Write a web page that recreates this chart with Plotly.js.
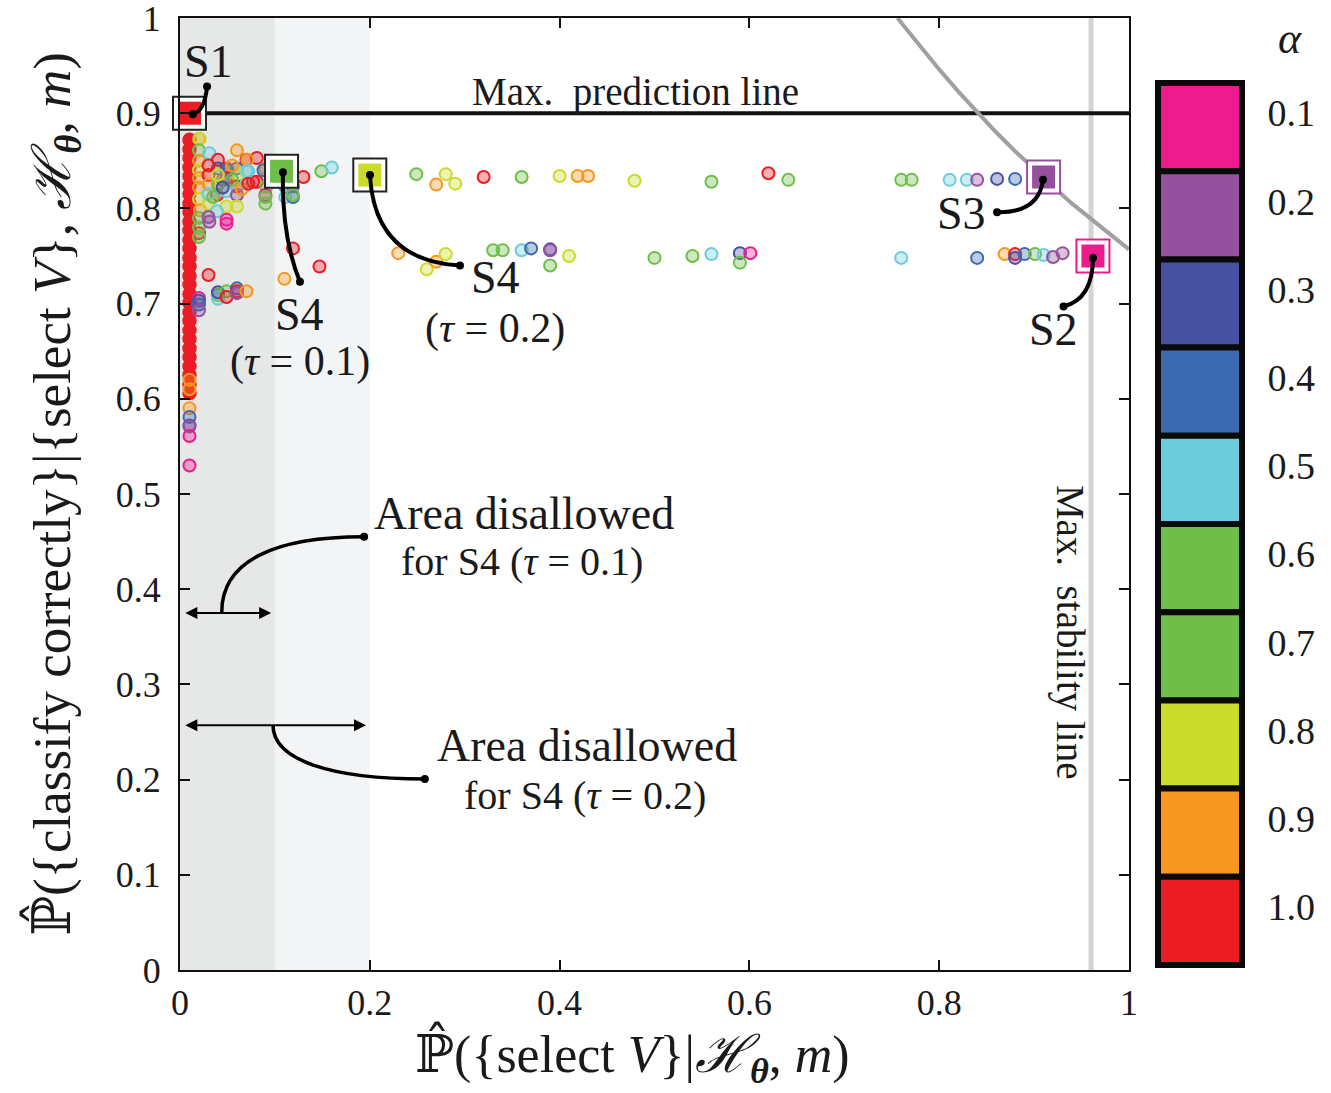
<!DOCTYPE html>
<html>
<head>
<meta charset="utf-8">
<script src="https://cdn.plot.ly/plotly-3.0.1.min.js"></script>
<style>html,body{margin:0;padding:0;background:#fff;}#chart{width:1331px;height:1093px;}</style>
</head>
<body>
<div id="chart"></div>
<script>
// ---------------- DATA ----------------
const alphaLevels = [0.1, 0.2, 0.3, 0.4, 0.5, 0.6, 0.7, 0.8, 0.9, 1.0];
const alphaLabels = ['0.1', '0.2', '0.3', '0.4', '0.5', '0.6', '0.7', '0.8', '0.9', '1.0'];
const alphaColors = ['#EC1C8E', '#96519E', '#4751A2', '#3C6AB1', '#6DCCDC',
                     '#6FBE4A', '#6FBE4A', '#CBDB2A', '#F7971F', '#EC1C24'];

// dense column of alpha = 1.0 results near x = 0.01
const colX = [0.01,0.01,0.01,0.01,0.01,0.01,0.01,0.01,0.01,0.01,0.01,0.01,0.01,0.01,0.01,
              0.01,0.01,0.01,0.01,0.01,0.01,0.01,0.01,0.01,0.01,0.01,0.01,0.01,0.01];
const colY = [0.872,0.862,0.853,0.843,0.834,0.824,0.815,0.805,0.796,0.786,0.777,0.767,0.758,0.748,0.739,
              0.729,0.720,0.710,0.701,0.691,0.682,0.672,0.663,0.653,0.644,0.634,0.625,0.615,0.606];

// individual results: x, y, alpha
const ptX = [
  0.010,0.010,0.010,0.010,0.010,0.010,0.010,0.010,
  0.020,0.021,0.020,0.020,0.020,0.020,0.020,0.020,0.021,0.020,0.020,0.020,0.020,
  0.031,0.040,0.060,0.070,0.049,0.060,0.070,0.030,0.049,0.061,0.030,0.060,0.070,0.077,
  0.039,0.049,0.060,0.030,0.049,0.060,0.039,0.030,0.049,0.031,0.049,
  0.040,0.050,0.045,0.030,0.055,0.040,0.030,0.040,0.065,0.035,0.055,0.045,
  0.081,0.071,0.090,0.072,0.081,0.072,0.091,0.090,0.090,0.090,0.088,
  0.130,0.149,0.160,0.111,0.119,0.111,0.119,0.119,
  0.119,0.030,0.110,0.147,
  0.040,0.040,0.040,0.049,0.049,0.060,0.060,0.060,0.070,0.020,0.020,0.020,0.020,
  0.249,0.270,0.280,0.290,0.320,0.360,0.400,0.419,0.430,0.479,0.560,0.620,0.641,
  0.760,0.771,0.811,0.829,0.840,0.861,0.880,
  0.230,0.260,0.270,0.280,0.330,0.340,0.360,0.370,0.390,0.390,0.390,0.410,0.500,0.540,0.560,0.590,0.601,0.590,
  0.760,0.840,0.869,0.880,0.880,0.890,0.901,0.910,0.920,0.930
];
const ptY = [
  0.620,0.610,0.590,0.581,0.572,0.571,0.561,0.530,
  0.873,0.873,0.861,0.850,0.840,0.832,0.822,0.810,0.798,0.790,0.774,0.770,0.780,
  0.858,0.851,0.861,0.851,0.842,0.842,0.839,0.835,0.832,0.835,0.825,0.823,0.826,0.828,
  0.814,0.818,0.814,0.805,0.802,0.802,0.797,0.791,0.788,0.786,0.784,
  0.842,0.840,0.830,0.815,0.830,0.825,0.845,0.835,0.820,0.812,0.845,0.822,
  0.853,0.851,0.842,0.839,0.828,0.826,0.823,0.814,0.812,0.805,0.840,
  0.833,0.839,0.843,0.823,0.823,0.812,0.812,0.814,
  0.758,0.730,0.726,0.739,
  0.709,0.705,0.712,0.713,0.707,0.716,0.713,0.711,0.713,0.706,0.703,0.699,0.693,
  0.836,0.825,0.836,0.826,0.833,0.833,0.834,0.834,0.834,0.829,0.828,0.837,0.830,
  0.830,0.830,0.830,0.830,0.830,0.831,0.831,
  0.753,0.736,0.744,0.752,0.756,0.756,0.756,0.758,0.757,0.756,0.740,0.750,0.748,0.750,0.752,0.753,0.753,0.743,
  0.748,0.748,0.752,0.752,0.748,0.752,0.752,0.751,0.749,0.753
];
const ptA = [
  0.9,0.9,0.9,0.4,0.3,0.2,0.1,0.1,
  0.9,0.8,0.7,0.9,0.8,0.9,0.9,0.8,0.9,0.6,1.0,0.6,0.7,
  0.5,1.0,0.9,1.0,1.0,0.4,0.5,1.0,1.0,0.8,0.9,1.0,0.5,1.0,
  1.0,0.5,0.2,0.8,0.8,0.8,0.5,0.2,0.1,0.2,0.1,
  0.3,0.4,0.2,0.5,0.6,0.7,1.0,0.8,0.9,0.6,0.9,0.3,
  1.0,0.9,0.9,0.5,1.0,1.0,0.7,0.1,0.6,0.6,0.4,
  1.0,0.7,0.5,0.4,0.2,0.5,0.4,0.6,
  1.0,1.0,0.9,1.0,
  0.6,0.5,0.3,0.6,1.0,0.4,1.0,0.2,0.9,0.1,0.3,0.4,0.2,
  0.7,0.9,0.8,0.8,1.0,0.6,0.8,0.9,0.9,0.8,0.6,1.0,0.6,
  0.6,0.7,0.5,0.5,0.2,0.3,0.4,
  0.9,0.8,0.9,0.8,0.6,0.7,0.5,0.4,0.3,0.2,0.6,0.8,0.6,0.7,0.5,0.3,0.1,0.6,
  0.5,0.4,0.9,1.0,0.3,0.4,0.6,0.5,0.2,0.2
];

// highlighted strategies
const specLabels = ['S1', 'S4 (τ = 0.1)', 'S4 (τ = 0.2)', 'S3', 'S2'];
const specX = [0.010, 0.107, 0.200, 0.910, 0.962];
const specY = [0.900, 0.839, 0.835, 0.833, 0.750];
const specA = [1.0, 0.6, 0.8, 0.2, 0.1];

// boundary curve
const curveX = [0.756, 0.78, 0.80, 0.82, 0.84, 0.86, 0.88, 0.90, 0.92, 0.94, 0.96, 0.98, 1.00];
const curveY = [1.000, 0.970, 0.946, 0.923, 0.901, 0.880, 0.860, 0.841, 0.823, 0.805, 0.789, 0.772, 0.757];

const maxPrediction = 0.9;
const maxStability = 0.96;
const tau1 = 0.1, tau2 = 0.2;

const xTickVals = [0, 0.2, 0.4, 0.6, 0.8, 1];
const xTickText = ['0', '0.2', '0.4', '0.6', '0.8', '1'];
const yTickVals = [0, 0.1, 0.2, 0.3, 0.4, 0.5, 0.6, 0.7, 0.8, 0.9, 1];
const yTickText = ['0', '0.1', '0.2', '0.3', '0.4', '0.5', '0.6', '0.7', '0.8', '0.9', '1'];

const xTitle = 'ℙ̂({select <i>V</i>}|<i>ℋ</i><sub><b><i>θ</i></b></sub>, <i>m</i>)';
const yTitle = 'ℙ̂({classify correctly}|{select <i>V</i>}, <i>ℋ</i><sub><b><i>θ</i></b></sub>, <i>m</i>)';

// ---------------- STYLE HELPERS ----------------
const FONT = 'Liberation Serif, DejaVu Serif, serif';
const INK = '#1a1a1a';
function colorOf(a) { return alphaColors[Math.round(a * 10) - 1]; }
function fade(hex, op) {
  const r = parseInt(hex.slice(1, 3), 16), g = parseInt(hex.slice(3, 5), 16), b = parseInt(hex.slice(5, 7), 16);
  return 'rgba(' + r + ',' + g + ',' + b + ',' + op + ')';
}

const traces = [];

traces.push({
  x: curveX, y: curveY, type: 'scatter', mode: 'lines',
  line: { color: '#a0a0a0', width: 4 }, hoverinfo: 'skip', showlegend: false
});

traces.push({
  x: colX, y: colY, type: 'scatter', mode: 'markers',
  marker: { size: 13, color: colorOf(1.0), line: { color: colorOf(1.0), width: 1.5 } },
  showlegend: false
});

traces.push({
  x: ptX, y: ptY, type: 'scatter', mode: 'markers',
  marker: {
    size: 12,
    color: ptA.map(a => fade(colorOf(a), 0.35)),
    line: { color: ptA.map(a => colorOf(a)), width: 2 }
  },
  showlegend: false
});

traces.push({
  x: specX, y: specY, type: 'scatter', mode: 'markers', cliponaxis: false,
  marker: {
    symbol: 'square', size: 33, color: '#ffffff',
    line: { width: 2, color: specA.map((a, i) => i < 3 ? '#222222' : colorOf(a)) }
  },
  text: specLabels, hoverinfo: 'text', showlegend: false
});
traces.push({
  x: specX, y: specY, type: 'scatter', mode: 'markers', cliponaxis: false,
  marker: { symbol: 'square', size: 23, color: specA.map(colorOf), line: { width: 0 } },
  hoverinfo: 'skip', showlegend: false
});

const connectors = [
  { p: [[0.0135, 0.899], [0.026, 0.902], [0.0285, 0.928]] },
  { p: [[0.1085, 0.838], [0.107, 0.77], [0.1264, 0.723]] },
  { p: [[0.2002, 0.835], [0.205, 0.745], [0.295, 0.740]] },
  { p: [[0.9094, 0.830], [0.905, 0.795], [0.861, 0.796]] },
  { p: [[0.962, 0.748], [0.962, 0.705], [0.931, 0.697]] }
];
const shapes = [
  { type: 'rect', xref: 'x', yref: 'y', x0: 0, x1: tau1, y0: 0, y1: 1, fillcolor: '#e6e7e7', line: { width: 0 }, layer: 'below' },
  { type: 'rect', xref: 'x', yref: 'y', x0: tau1, x1: tau2, y0: 0, y1: 1, fillcolor: '#f3f4f6', line: { width: 0 }, layer: 'below' },
  { type: 'line', xref: 'x', yref: 'y', x0: maxStability, x1: maxStability, y0: 0, y1: 1, line: { color: '#d4d4d4', width: 5 }, layer: 'below' },
  { type: 'line', xref: 'x', yref: 'y', x0: 0, x1: 1, y0: maxPrediction, y1: maxPrediction, line: { color: '#111', width: 4 }, layer: 'below' }
];
const dotX = [], dotY = [];
connectors.forEach(c => {
  const [a, b, d] = c.p;
  shapes.push({
    type: 'path', xref: 'x', yref: 'y',
    path: 'M ' + a[0] + ',' + a[1] + ' Q ' + b[0] + ',' + b[1] + ' ' + d[0] + ',' + d[1],
    line: { color: '#000', width: 4 }
  });
  dotX.push(a[0], d[0]); dotY.push(a[1], d[1]);
});
const areaCurves = [
  [[0.044, 0.376], [0.044, 0.43], [0.10, 0.455], [0.194, 0.455]],
  [[0.098, 0.257], [0.098, 0.22], [0.16, 0.2006], [0.258, 0.2006]]
];
areaCurves.forEach(c => {
  shapes.push({
    type: 'path', xref: 'x', yref: 'y',
    path: 'M ' + c[0].join(',') + ' C ' + c[1].join(',') + ' ' + c[2].join(',') + ' ' + c[3].join(','),
    line: { color: '#000', width: 3.5 }
  });
  dotX.push(c[3][0]); dotY.push(c[3][1]);
});

traces.push({
  x: dotX, y: dotY, type: 'scatter', mode: 'markers', cliponaxis: false,
  marker: { size: 8, color: '#000' }, hoverinfo: 'skip', showlegend: false
});

// colour bar drawn as horizontal bars
traces.push({
  type: 'bar', orientation: 'h', xaxis: 'x2', yaxis: 'y2',
  y: alphaLabels, x: alphaLabels.map(() => 1),
  marker: { color: alphaColors, line: { color: '#0a0a0a', width: 6 } },
  hoverinfo: 'y', showlegend: false
});

const ann = [];
function txt(x, y, text, size, extra) {
  ann.push(Object.assign({
    x: x, y: y, xref: 'x', yref: 'y', text: text, showarrow: false,
    font: { family: FONT, size: size, color: INK }, xanchor: 'center', yanchor: 'middle'
  }, extra || {}));
}
txt(0.0295, 0.954, 'S1', 46);
txt(0.4805, 0.922, 'Max.  prediction line', 39);
txt(0.1264, 0.689, 'S4', 46);
txt(0.1264, 0.6387, '(<i>τ</i> = 0.1)', 42);
txt(0.332, 0.727, 'S4', 46);
txt(0.332, 0.674, '(<i>τ</i> = 0.2)', 42);
txt(0.824, 0.795, 'S3', 46);
txt(0.920, 0.673, 'S2', 46);
txt(0.3625, 0.480, 'Area disallowed', 46);
txt(0.360, 0.4296, 'for S4 (<i>τ</i> = 0.1)', 40);
txt(0.4289, 0.2353, 'Area disallowed', 46);
txt(0.4268, 0.1838, 'for S4 (<i>τ</i> = 0.2)', 40);
txt(0.938, 0.355, 'Max.  stability line', 39, { textangle: 90 });

[[tau1, 0.375], [tau2, 0.257]].forEach(p => {
  ann.push({
    x: p[0] - 0.004, y: p[1], ax: 0.004, ay: p[1], xref: 'x', yref: 'y', axref: 'x', ayref: 'y',
    text: '', showarrow: true, arrowhead: 2, arrowside: 'end+start', arrowsize: 1.2, arrowwidth: 2, arrowcolor: '#000',
    standoff: 0, startstandoff: 0
  });
});

const W = 1331, H = 1093, ML = 180, MR = 75, MT = 18, MB = 123;
const PW = W - ML - MR, PH = H - MT - MB;
ann.push({
  x: (1290 - ML) / PW, y: (H - MB - 38) / PH, xref: 'paper', yref: 'paper',
  xanchor: 'center', yanchor: 'middle', text: '<i>α</i>', showarrow: false,
  font: { family: FONT, size: 44, color: INK }
});
// x-axis title (placed as in the reference, slightly left of the axis centre)
ann.push({
  x: (632 - ML) / PW, y: (H - MB - 1056) / PH, xref: 'paper', yref: 'paper',
  xanchor: 'center', yanchor: 'middle', text: xTitle, showarrow: false,
  font: { family: FONT, size: 52, color: INK }
});

const layout = {
  width: W, height: H,
  margin: { l: ML, r: MR, t: MT, b: MB, pad: 0 },
  paper_bgcolor: '#ffffff', plot_bgcolor: '#ffffff',
  font: { family: FONT, color: INK },
  showlegend: false,
  bargap: 0,
  xaxis: {
    domain: [0, 949 / PW], range: [0, 1], anchor: 'y',
    tickvals: xTickVals, ticktext: xTickText,
    ticks: 'inside', ticklen: 10, tickwidth: 2, tickcolor: '#111',
    showline: true, linecolor: '#111', linewidth: 2, mirror: 'ticks',
    showgrid: false, zeroline: false, ticklabeloverflow: 'allow',
    tickfont: { family: FONT, size: 36, color: INK }
  },
  yaxis: {
    domain: [0, 1], range: [0, 1], anchor: 'x',
    tickvals: yTickVals, ticktext: yTickText,
    ticks: 'inside', ticklen: 10, tickwidth: 2, tickcolor: '#111',
    showline: true, linecolor: '#111', linewidth: 2, mirror: 'ticks',
    showgrid: false, zeroline: false, ticklabeloverflow: 'allow',
    ticklabelstandoff: 10,
    tickfont: { family: FONT, size: 36, color: INK },
    title: { text: yTitle, font: { family: FONT, size: 53, color: INK }, standoff: 28 }
  },
  xaxis2: {
    domain: [(1149.6 - ML) / PW, (1250.4 - ML) / PW], range: [-0.1, 1.1], anchor: 'y2',
    showticklabels: false, showgrid: false, zeroline: false, showline: false, ticks: '', fixedrange: true
  },
  yaxis2: {
    domain: [(H - MB - 968.5) / PH, (H - MB - 79.5) / PH], anchor: 'x2', side: 'right',
    type: 'category', range: [9.54, -0.54],
    showgrid: false, zeroline: false, showline: false, ticks: '',
    ticklabelstandoff: 16, ticklabelshift: 14,
    tickfont: { family: FONT, size: 38, color: INK }
  },
  shapes: shapes,
  annotations: ann
};

Plotly.newPlot('chart', traces, layout, { displayModeBar: false, staticPlot: true });
</script>
</body>
</html>
